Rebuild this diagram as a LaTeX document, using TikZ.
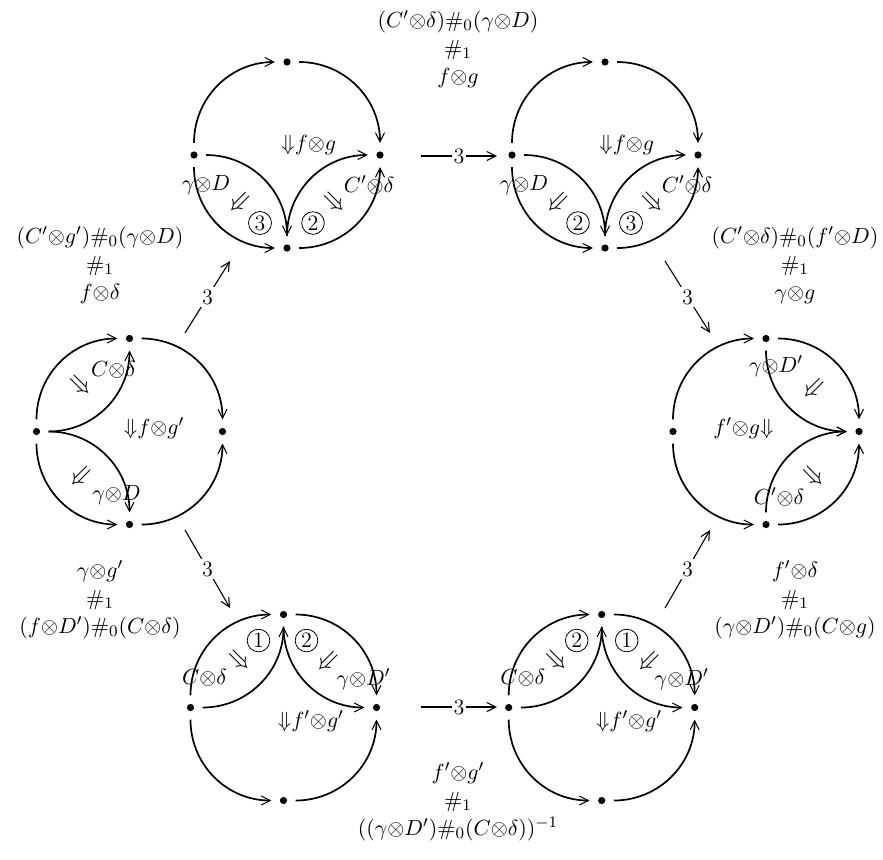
\documentclass[tikz,border=0pt]{standalone}
\usepackage{amsmath,amssymb}
\usetikzlibrary{arrows.meta}
\newcommand\ot{\mathord{\otimes}}
\newcommand\dn{\mathord{\Downarrow}}
\newcommand\sqdots[3]{%
  \node[dot] (#1N) at (#2,#3-93) {};
  \node[dot] (#1S) at (#2,#3+93) {};
  \node[dot] (#1W) at (#2-93,#3) {};
  \node[dot] (#1E) at (#2+93,#3) {};
}
\newcommand\outerarcs[1]{%
  \draw[cell] (#1W) to[out=90,in=180] (#1N);
  \draw[cell] (#1N) to[out=0,in=90] (#1E);
  \draw[cell] (#1W) to[out=-90,in=180] (#1S);
  \draw[cell] (#1S) to[out=0,in=-90] (#1E);
}
\begin{document}
\begin{tikzpicture}[x=0.5pt,y=-0.5pt,
  font=\fontsize{11}{14}\selectfont,
  dot/.style={circle,fill,inner sep=0pt,minimum size=3.6pt,outer sep=4.3pt},
  cell/.style={line width=0.85pt,-{Straight Barb[length=4.5pt,width=4.5pt,line width=0.5pt]}},
  lab/.style={inner sep=0pt},
  dbl/.style={inner sep=0pt,scale=1.2},
  num/.style={circle,draw,line width=0.4pt,inner sep=0.8pt},
  conn/.style={line width=0.55pt,-{Straight Barb[length=4.5pt,width=4.5pt]}},
  clab/.style={fill=white,inner sep=1pt},
  big/.style={align=center,inner sep=0pt},
]
\useasboundingbox (0,0) rectangle (883,859);

% ---------- diagram 1 (top left)
\sqdots{a}{287}{155}
\outerarcs{a}
\draw[cell] (aW) to[out=0,in=90] (aS);
\draw[cell] (aS) to[out=90,in=180] (aE);
\begin{scope}[shift={(287,155)}]
  \node[lab,anchor=west] (a-t) at (-6,-10) {$\dn f\ot g$};
  \node[lab] (a-l) at (-81,30) {$\gamma\ot D$};
  \node[dbl,rotate=-45] (a-sw) at (-47,48) {$\Downarrow$};
  \node[num] (a-n1) at (-27,68) {3};
  \node[num] (a-n2) at (26,68) {2};
  \node[dbl,rotate=45] (a-se) at (48,47) {$\Downarrow$};
  \node[lab] (a-r) at (82,30) {$C'\ot\delta$};
\end{scope}

% ---------- diagram 2 (top right)
\sqdots{b}{605}{155}
\outerarcs{b}
\draw[cell] (bW) to[out=0,in=90] (bS);
\draw[cell] (bS) to[out=90,in=180] (bE);
\begin{scope}[shift={(605,155)}]
  \node[lab,anchor=west] (b-t) at (-6,-10) {$\dn f\ot g$};
  \node[lab] (b-l) at (-81,30) {$\gamma\ot D$};
  \node[dbl,rotate=-45] (b-sw) at (-47,48) {$\Downarrow$};
  \node[num] (b-n1) at (-27,68) {2};
  \node[num] (b-n2) at (26,68) {3};
  \node[dbl,rotate=45] (b-se) at (48,47) {$\Downarrow$};
  \node[lab] (b-r) at (82,30) {$C'\ot\delta$};
\end{scope}

% ---------- diagram 3 (left)
\sqdots{c}{129.5}{431.5}
\outerarcs{c}
\draw[cell] (cW) to[out=0,in=-90] (cN);
\draw[cell] (cW) to[out=0,in=90] (cS);
\begin{scope}[shift={(129.5,431.5)}]
  \node[lab] (c-u) at (-16,-62) {$C\ot\delta$};
  \node[dbl,rotate=45] (c-se) at (-49,-46) {$\Downarrow$};
  \node[lab,anchor=west] (c-t) at (-6,-3) {$\dn f\ot g'$};
  \node[dbl,rotate=-45] (c-sw) at (-49,45) {$\Downarrow$};
  \node[lab] (c-d) at (-13,64) {$\gamma\ot D$};
\end{scope}

% ---------- diagram 4 (right)
\sqdots{d}{766}{431.5}
\outerarcs{d}
\draw[cell] (dN) to[out=-90,in=180] (dE);
\draw[cell] (dS) to[out=90,in=180] (dE);
\begin{scope}[shift={(766,431.5)}]
  \node[lab] (d-u) at (10,-65) {$\gamma\ot D'$};
  \node[dbl,rotate=-45] (d-sw) at (48,-43) {$\Downarrow$};
  \node[lab,anchor=east] (d-t) at (8,-3) {$f'\ot g\dn$};
  \node[dbl,rotate=45] (d-se) at (48,45) {$\Downarrow$};
  \node[lab] (d-d) at (13,65) {$C'\ot\delta$};
\end{scope}

% ---------- diagram 5 (bottom left)
\sqdots{e}{283.5}{707.5}
\outerarcs{e}
\draw[cell] (eW) to[out=0,in=-90] (eN);
\draw[cell] (eN) to[out=-90,in=180] (eE);
\begin{scope}[shift={(283.5,707.5)}]
  \node[num] (e-n1) at (-25,-67) {1};
  \node[num] (e-n2) at (23,-67) {2};
  \node[dbl,rotate=45] (e-se) at (-44,-47) {$\Downarrow$};
  \node[dbl,rotate=-45] (e-sw) at (44,-46) {$\Downarrow$};
  \node[lab] (e-l) at (-79,-30) {$C\ot\delta$};
  \node[lab] (e-r) at (80,-28) {$\gamma\ot D'$};
  \node[lab,anchor=west] (e-t) at (-6,14) {$\dn f'\ot g'$};
\end{scope}

% ---------- diagram 6 (bottom right)
\sqdots{f}{601.7}{707.5}
\outerarcs{f}
\draw[cell] (fW) to[out=0,in=-90] (fN);
\draw[cell] (fN) to[out=-90,in=180] (fE);
\begin{scope}[shift={(601.7,707.5)}]
  \node[num] (f-n1) at (-25,-67) {2};
  \node[num] (f-n2) at (25,-67) {1};
  \node[dbl,rotate=45] (f-se) at (-45,-47) {$\Downarrow$};
  \node[dbl,rotate=-45] (f-sw) at (47,-46) {$\Downarrow$};
  \node[lab] (f-l) at (-79,-30) {$C\ot\delta$};
  \node[lab] (f-r) at (80,-28) {$\gamma\ot D'$};
  \node[lab,anchor=west] (f-t) at (-6,14) {$\dn f'\ot g'$};
\end{scope}

% ---------- composite labels
\node[big] (Ltop) at (458,49) {$(C'\ot\delta)\#_0(\gamma\ot D)$\\$\#_1$\\$f\ot g$};
\node[big] (Lul) at (100,265) {$(C'\ot g')\#_0(\gamma\ot D)$\\$\#_1$\\$f\ot\delta$};
\node[big] (Lur) at (795,265) {$(C'\ot\delta)\#_0(f'\ot D)$\\$\#_1$\\$\gamma\ot g$};
\node[big] (Lll) at (100,600) {$\gamma\ot g'$\\$\#_1$\\$(f\ot D')\#_0(C\ot\delta)$};
\node[big] (Llr) at (795,600) {$f'\ot\delta$\\$\#_1$\\$(\gamma\ot D')\#_0(C\ot g)$};
\node[big] (Lbot) at (458,802) {$f'\ot g'$\\$\#_1$\\$((\gamma\ot D')\#_0(C\ot\delta))^{-1}$};

% ---------- connecting 3-cells
\coordinate (A1) at (185,333); \coordinate (A2) at (230,261);
\coordinate (B1) at (421,156); \coordinate (B2) at (497,156);
\coordinate (C1) at (665,261); \coordinate (C2) at (710,333);
\coordinate (D1) at (185,530); \coordinate (D2) at (230,608);
\coordinate (E1) at (421,707); \coordinate (E2) at (497,707);
\coordinate (F1) at (665,608); \coordinate (F2) at (710,530);
\draw[conn] (A1) -- node[clab] (lA) {3} (A2);
\draw[conn] (B1) -- node[clab] (lB) {3} (B2);
\draw[conn] (C1) -- node[clab] (lC) {3} (C2);
\draw[conn] (D1) -- node[clab] (lD) {3} (D2);
\draw[conn] (E1) -- node[clab] (lE) {3} (E2);
\draw[conn] (F1) -- node[clab] (lF) {3} (F2);
\end{tikzpicture}
\end{document}
